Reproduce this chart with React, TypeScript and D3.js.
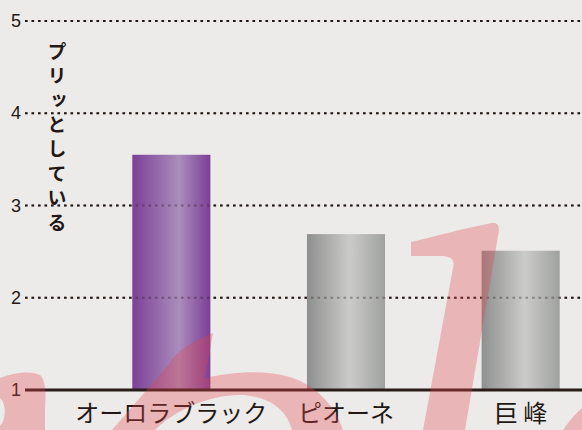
import React, { useEffect, useRef } from 'react';
import * as d3 from 'd3';

const categories = ['オーロラブラック', 'ピオーネ', '巨 峰'];
const values = [3.55, 2.69, 2.51];
const barStyles = ['purple', 'gray', 'gray'];
const yTicks = [1, 2, 3, 4, 5];
const yTitle = 'プリッとしている';

const width = 582;
const height = 430;

// pink brush strokes painted over the chart (decoration, not data)
const decoPaths = [
  'M0,378 C12,373 30,370 40,375 C46,380 46,395 45,410 L45,430 L0,430 L0,426 C6,420 7,404 0,398 Z',
  'M112,430 L170,363 C175,352 195,340 213,333 L205,378 C230,372 265,369 290,377 C315,385 335,405 343,430 L292,430 C287,410 270,397 243,395 C210,394 175,410 155,430 Z',
  'M411,242 C430,238 460,229 492,223 C499,222 500,228 498,236 L465,430 L423,430 L453,268 C456,258 448,256 440,256 L411,256 Z',
  'M563,430 C570,420 576,413 582,408 L582,430 Z',
];

export default function App() {
  const ref = useRef<SVGSVGElement>(null);

  useEffect(() => {
    const svg = d3.select(ref.current);
    svg.selectAll('*').remove();

    svg.append('rect')
      .attr('width', width)
      .attr('height', height)
      .attr('fill', '#ecebe9');

    const defs = svg.append('defs');
    const addGrad = (id: string, stops: [number, string][]) => {
      const g = defs.append('linearGradient')
        .attr('id', id)
        .attr('x1', 0).attr('x2', 1).attr('y1', 0).attr('y2', 0);
      stops.forEach(s => g.append('stop').attr('offset', s[0]).attr('stop-color', s[1]));
    };
    addGrad('grad-purple', [[0, '#7b4196'], [0.6, '#ab8cbc'], [1, '#7c3e95']]);
    addGrad('grad-gray', [[0, '#8e908f'], [0.55, '#cbcbc9'], [1, '#a0a2a0']]);

    const x = d3.scaleBand<string>()
      .domain(categories)
      .range([84, 608])
      .paddingInner(0.553)
      .paddingOuter(0.2765);

    const y = d3.scaleLinear()
      .domain([1, 5])
      .range([390, 21]);

    const drawGrid = (opacity: number) => {
      svg.append('g')
        .attr('opacity', opacity)
        .selectAll('line')
        .data(yTicks.filter(t => t > 1))
        .join('line')
        .attr('x1', 25)
        .attr('x2', width)
        .attr('y1', d => y(d))
        .attr('y2', d => y(d))
        .attr('stroke', '#231815')
        .attr('stroke-width', 2)
        .attr('stroke-dasharray', '2.6 3.9');
    };

    drawGrid(1);

    svg.append('g')
      .selectAll('rect')
      .data(values)
      .join('rect')
      .attr('x', (d, i) => x(categories[i])!)
      .attr('y', d => y(d))
      .attr('width', x.bandwidth())
      .attr('height', d => y(1) - y(d))
      .attr('fill', (d, i) => 'url(#grad-' + barStyles[i] + ')');

    drawGrid(0.35);

    // axis base line
    svg.append('line')
      .attr('x1', 25)
      .attr('x2', width)
      .attr('y1', y(1))
      .attr('y2', y(1))
      .attr('stroke', '#2a1d19')
      .attr('stroke-width', 3);

    svg.append('g')
      .selectAll('text')
      .data(yTicks)
      .join('text')
      .attr('x', 21)
      .attr('y', d => y(d) + 6)
      .attr('text-anchor', 'end')
      .attr('font-family', '"Liberation Sans", Arial, sans-serif')
      .attr('font-size', 18)
      .attr('fill', '#231815')
      .text(d => d);

    svg.append('g')
      .selectAll('text')
      .data(categories)
      .join('text')
      .attr('x', d => x(d)! + x.bandwidth() / 2)
      .attr('y', 422)
      .attr('text-anchor', 'middle')
      .attr('font-family', '"Noto Sans CJK JP", sans-serif')
      .attr('font-size', 24)
      .attr('fill', '#231815')
      .text(d => d);

    svg.append('text')
      .attr('x', 57)
      .attr('y', 42)
      .style('writing-mode', 'vertical-rl')
      .attr('font-family', '"Noto Sans CJK JP", sans-serif')
      .attr('font-size', 19)
      .attr('font-weight', 700)
      .attr('letter-spacing', 5.4)
      .attr('fill', '#231815')
      .text(yTitle);

    svg.append('g')
      .selectAll('path')
      .data(decoPaths)
      .join('path')
      .attr('d', d => d)
      .attr('fill', '#e2444c')
      .attr('opacity', 0.32);
  }, []);

  return (
    <div style={{position: 'fixed', left: 0, top: 0}}>
      <svg ref={ref} width={width} height={height} style={{display: 'block'}} />
    </div>
  );
}
